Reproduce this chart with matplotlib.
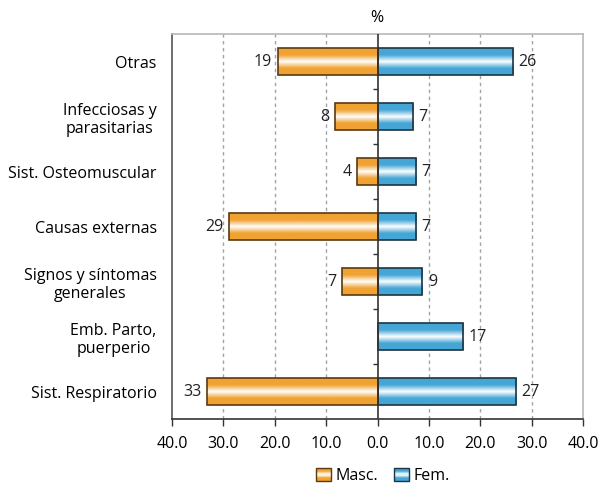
import numpy as np
import matplotlib.pyplot as plt
from matplotlib.patches import Patch, Rectangle
from matplotlib.colors import LinearSegmentedColormap
from matplotlib.legend_handler import HandlerBase

plt.rcParams['font.family'] = ['Open Sans', 'DejaVu Sans']

categories = ["Otras", "Infecciosas y\nparasitarias", "Sist. Osteomuscular",
              "Causas externas", "Signos y síntomas\ngenerales",
              "Emb. Parto,\npuerperio", "Sist. Respiratorio"]
masc = [19.4, 8.3, 3.9, 28.9, 6.9, 0.0, 33.1]
fem = [26.4, 6.9, 7.4, 7.4, 8.7, 16.6, 26.9]
series_names = ["Masc.", "Fem."]
xticks = [-40, -30, -20, -10, 0, 10, 20, 30, 40]

orange = "#f0a232"
blue = "#45a6d6"
orange_edge = "#5a3a12"
blue_edge = "#1e3442"


def grad_cmap(c):
    return LinearSegmentedColormap.from_list("g", [c, c, "#ffffff", c, c])


class GradHandler(HandlerBase):
    # legend square filled with the same banded gradient as the bars
    def create_artists(self, legend, orig, xd, yd, width, height, fontsize, trans):
        cmap = grad_cmap(orig.get_facecolor())
        n = 12
        arts = []
        for i in range(n):
            arts.append(Rectangle((-xd, -yd + height * i / n), width, height / n + 0.2,
                                  facecolor=cmap((i + 0.5) / n), edgecolor="none",
                                  transform=trans))
        arts.append(Rectangle((-xd, -yd), width, height, facecolor="none",
                              edgecolor=orig.get_edgecolor(), linewidth=1.0,
                              transform=trans))
        return arts


fig = plt.figure(figsize=(6.02, 4.83), dpi=100)
ax = fig.add_axes([172 / 602, 1 - 419 / 483, (583 - 172) / 602, (419 - 34) / 483])

y = np.arange(len(categories))
grad = np.linspace(0, 1, 64).reshape(-1, 1)

for vals, sign, col, edge in [(masc, -1, orange, orange_edge), (fem, 1, blue, blue_edge)]:
    bars = ax.barh(y, [sign * v for v in vals], height=0.48, facecolor="none",
                   edgecolor=edge, linewidth=1.2, zorder=4)
    for b, v in zip(bars, vals):
        if v == 0:
            b.set_visible(False)
            continue
        x0, yb, w, h = b.get_x(), b.get_y(), b.get_width(), b.get_height()
        im = ax.imshow(grad, cmap=grad_cmap(col), extent=[x0, x0 + w, yb, yb + h],
                       aspect="auto", zorder=3, interpolation="bilinear")
        im.set_clip_path(b)
        yc = yb + h / 2
        if sign < 0:
            ax.annotate(f"{v:.0f}", (x0 + w, yc), xytext=(-4, 0), textcoords="offset points",
                        ha="right", va="center", fontsize=11.5, color="#222222")
        else:
            ax.annotate(f"{v:.0f}", (x0 + w, yc), xytext=(4, 0), textcoords="offset points",
                        ha="left", va="center", fontsize=11.5, color="#222222")

ax.set_xlim(-40, 40)
ax.set_ylim(len(categories) - 0.5, -0.5)

# grid lines
for t in xticks:
    if t not in (-40, 0, 40):
        ax.axvline(t, color="#a0a4a8", linestyle=(0, (2.5, 2.5)), linewidth=1.0, zorder=1)
ax.axvline(0, color="#333333", linewidth=1.2, zorder=5)

# small ticks on the centre line between categories
for yb in y[:-1] + 0.5:
    ax.plot([-0.9, 0], [yb, yb], color="#333333", linewidth=1.0, zorder=5, solid_capstyle="butt")

ax.set_xticks(xticks)
ax.set_xticklabels([f"{abs(t):.1f}" for t in xticks], fontsize=11.5)
ax.tick_params(axis="x", length=5, width=1.0, color="#333333", pad=7)
ax.set_yticks(y)
ax.set_yticklabels(categories, fontsize=11.5, multialignment="center")
ax.tick_params(axis="y", length=0, pad=11)

ax.spines["top"].set_color("#b4b8bc")
ax.spines["right"].set_color("#b4b8bc")
ax.spines["left"].set_color("#555555")
ax.spines["bottom"].set_color("#333333")
for s in ax.spines.values():
    s.set_linewidth(1.2)

fig.text(377 / 602, 1 - 18 / 483, "%", ha="center", va="center", fontsize=11.5)

handles = [Patch(facecolor=orange, edgecolor=orange_edge),
           Patch(facecolor=blue, edgecolor=blue_edge)]
fig.legend(handles, series_names, loc="center", bbox_to_anchor=(383 / 602, 1 - 476 / 483),
           ncol=2, frameon=False, fontsize=11.5, handlelength=0.9, handleheight=0.9,
           handletextpad=0.3, columnspacing=1.0,
           handler_map={Patch: GradHandler()})

fig.savefig("out.png", dpi=100)
